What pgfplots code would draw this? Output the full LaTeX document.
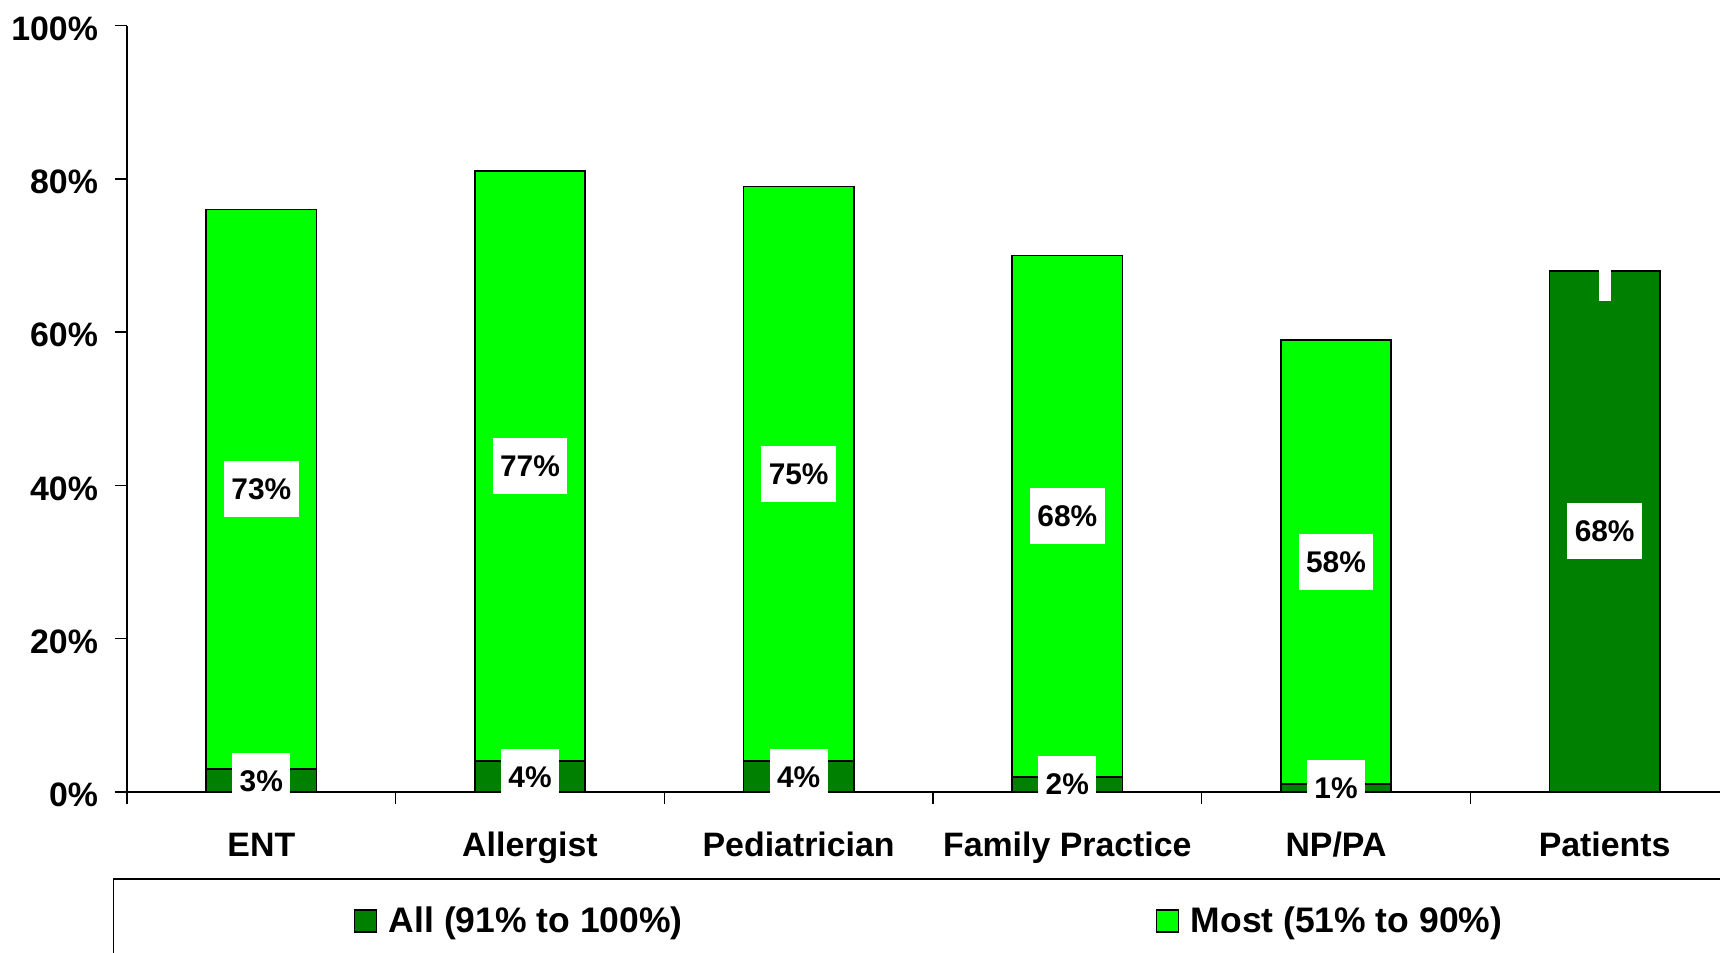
\documentclass[border=0pt]{standalone}
\usepackage{fontspec}
\setmainfont{Liberation Sans}
\usepackage{pgfplots}
\usepackage{pgfplotstable}
\pgfplotsset{compat=1.18}
\definecolor{mostg}{RGB}{0,255,0}
\definecolor{allg}{RGB}{0,128,0}
\pgfplotstableread{
x all most
0 3 73
1 4 77
2 4 75
3 2 68
4 1 58
5 68 0
}\data
\begin{document}
\begin{tikzpicture}
\useasboundingbox (0,0) rectangle (860bp,476.5bp);
\clip (0,0) rectangle (860bp,476.5bp);
\begin{axis}[
  at={(63.5bp,80.5bp)}, anchor=south west,
  scale only axis, width=806bp, height=383.15bp,
  xmin=-0.5, xmax=5.5, ymin=0, ymax=100,
  axis x line*=bottom, axis y line*=left,
  axis line style={line width=0.75bp, -},
  axis on top,
  tick align=outside,
  /pgf/number format/assume math mode=true,
  ytick={0,20,40,60,80,100},
  yticklabels={0\%,20\%,40\%,60\%,80\%,100\%},
  xtick={0,1,2,3,4,5},
  xticklabels={ENT,Allergist,Pediatrician,Family Practice,NP/PA,Patients},
  minor xtick={-0.5,0.5,1.5,2.5,3.5,4.5,5.5},
  major x tick style={draw=none},
  major tick length=6bp, minor tick length=6bp,
  tick style={line width=0.75bp, black},
  ticklabel style={font=\fontsize{17}{20}\selectfont\bfseries},
  xticklabel style={anchor=base, yshift=-26bp},
  yticklabel style={anchor=east, xshift=-5bp, yshift=-1.5bp},
  legend style={at={(0,0)}, anchor=north west, xshift=-7bp, yshift=-43bp,
    draw=black, line width=0.75bp, inner xsep=120bp, inner ysep=12bp,
    font=\fontsize{17.8}{21}\selectfont\bfseries,
    legend columns=2,
    /tikz/every odd column/.append style={column sep=4bp},
    /tikz/every even column/.append style={column sep=234.5bp}},
  legend cell align=left,
  nodes near coords style={font=\fontsize{15}{17}\selectfont\bfseries, fill=white, anchor=center,
     inner xsep=3.75bp, text height=11bp, text depth=0.5bp, minimum height=28bp},
]
\addlegendimage{legend image code/.code={\draw[fill=allg, draw=black, line width=0.6bp] (0bp,-5.5bp) rectangle (11bp,5.5bp);}}
\addlegendentry{All (91\% to 100\%)}
\addlegendimage{legend image code/.code={\draw[fill=mostg, draw=black, line width=0.6bp] (0bp,-5.5bp) rectangle (11bp,5.5bp);}}
\addlegendentry{Most (51\% to 90\%)}
% Most (drawn as total height), then All over it
\addplot[forget plot, ybar, bar width=0.41, bar shift=0pt, fill=mostg, draw=black, line width=0.85bp]
  table[x=x, y expr=\thisrow{all}+\thisrow{most}] {\data};
\addplot[forget plot, ybar, bar width=0.41, bar shift=0pt, fill=allg, draw=black, line width=0.85bp]
  table[x=x, y=all] {\data};
% labels: All
\addplot[forget plot, draw=none, mark=none, point meta=explicit,
  nodes near coords={\pgfmathprintnumber{\pgfplotspointmeta}\%}]
  table[x=x, y expr=\thisrow{all}/2, meta=all] {\data};
% labels: Most
\addplot[forget plot, draw=none, mark=none, point meta=explicit,
  skip coords between index={5}{6},
  nodes near coords={\pgfmathprintnumber{\pgfplotspointmeta}\%}]
  table[x=x, y expr=\thisrow{all}+\thisrow{most}/2, meta=most] {\data};
% empty label of Most for Patients (0%)
\addplot[forget plot, draw=none, mark=none, point meta=explicit,
  skip coords between index={0}{5},
  nodes near coords={}, nodes near coords style={inner xsep=3bp, minimum height=30bp}]
  table[x=x, y expr=\thisrow{all}+\thisrow{most}/2, meta=most] {\data};
\end{axis}
\end{tikzpicture}
\end{document}
